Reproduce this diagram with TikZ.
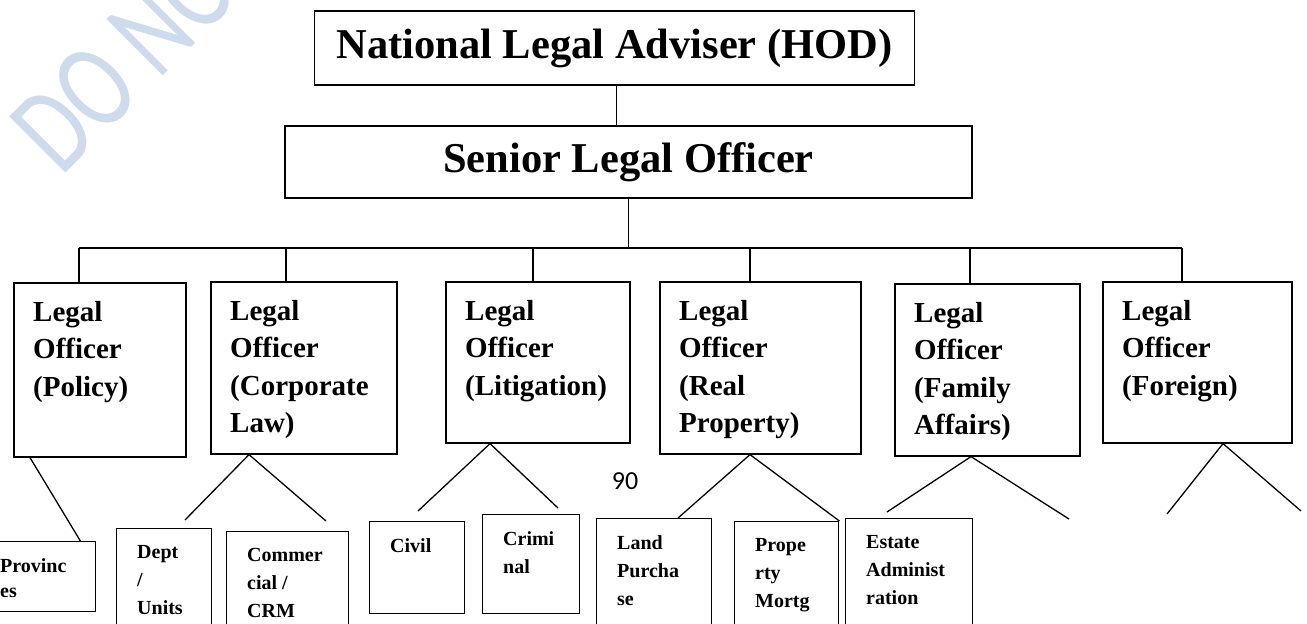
\documentclass[tikz,border=0pt]{standalone}
\usepackage{fontspec}
\setmainfont{Liberation Serif}
\newfontfamily\pagefont{Carlito}
\usetikzlibrary{positioning,calc}

\definecolor{wmblue}{RGB}{205,219,236}

\tikzset{
    headbox/.style={draw, line width=1.6pt, inner sep=0pt, font=\fontsize{42.5}{50}\selectfont\bfseries},
    officerbox/.style={draw, line width=1.6pt, anchor=north west, inner sep=0pt},
    unitbox/.style={draw, line width=1.4pt, anchor=north west, inner sep=0pt},
    officertext/.style={anchor=north west, inner sep=0pt, align=left, font=\fontsize{29}{37.5}\selectfont\bfseries},
    unittext/.style={anchor=north west, inner sep=0pt, align=left, font=\fontsize{20}{28}\selectfont\bfseries},
    link/.style={line width=1.3pt},
    wmark/.style={text=wmblue, inner sep=0pt, font=\pagefont\fontsize{124}{124}\selectfont}
}

\begin{document}
\begin{tikzpicture}[x=1pt, y=-1pt]
            \useasboundingbox (0,0) rectangle (1307,624);

            % Watermark
            \node[wmark, rotate=45, xscale=0.74, anchor=base west] (wm) at (61,178) {DO NOT COPY};

            % Head of department and senior officer
            \node[headbox, minimum width=600, minimum height=74] (hod) at (614.5,48) {National Legal Adviser (HOD)};
            \node[headbox, minimum width=687, minimum height=72] (sen) at (628.5,162) {Senior Legal Officer};
            \draw[link] ([xshift=2]hod.south) -- ([xshift=2]hod.south |- sen.north);

            % Legal officers
            \node[officerbox, minimum width=172, minimum height=174] (pol) at (13,282) {};
            \node[officerbox, minimum width=186, minimum height=172] (cor) at (210,281) {};
            \node[officerbox, minimum width=184, minimum height=161] (lit) at (445,281) {};
            \node[officerbox, minimum width=201, minimum height=172] (rea) at (659,281) {};
            \node[officerbox, minimum width=185, minimum height=172] (fam) at (894,283) {};
            \node[officerbox, minimum width=189, minimum height=161] (frn) at (1102,281) {};

            \node[officertext] (polt) at ([shift={(20,19)}]pol.north west) {Legal\\Officer\\(Policy)};
            \node[officertext] (cort) at ([shift={(20,19)}]cor.north west) {Legal\\Officer\\(Corporate\\Law)};
            \node[officertext] (litt) at ([shift={(20,19)}]lit.north west) {Legal\\Officer\\(Litigation)};
            \node[officertext] (reat) at ([shift={(20,19)}]rea.north west) {Legal\\Officer\\(Real\\Property)};
            \node[officertext] (famt) at ([shift={(20,19)}]fam.north west) {Legal\\Officer\\(Family\\Affairs)};
            \node[officertext] (frnt) at ([shift={(20,19)}]frn.north west) {Legal\\Officer\\(Foreign)};

            % Bus from the senior officer
            \coordinate (s1) at (79,248);
            \coordinate (s2) at (286,248);
            \coordinate (s3) at (533,248);
            \coordinate (s4) at (750,248);
            \coordinate (s5) at (970,248);
            \coordinate (s6) at (1182,248);
            \draw[link] (sen.south) -- (sen.south |- s1);
            \draw[link] (s1) -- (s6);
            \foreach \s/\b in {s1/pol, s2/cor, s3/lit, s4/rea, s5/fam, s6/frn}
                \draw[link] (\s) -- (\s |- \b.north);

            % Units
            \node[unitbox, minimum width=115, minimum height=70] (prv) at (-20,541) {};
            \node[unitbox, minimum width=95, minimum height=120] (dep) at (116,528) {};
            \node[unitbox, minimum width=122, minimum height=120] (com) at (226,531) {};
            \node[unitbox, minimum width=95, minimum height=92] (civ) at (369,521) {};
            \node[unitbox, minimum width=97, minimum height=99] (cri) at (482,514) {};
            \node[unitbox, minimum width=115, minimum height=120] (lan) at (596,518) {};
            \node[unitbox, minimum width=104, minimum height=120] (pro) at (734,521) {};
            \node[unitbox, minimum width=127, minimum height=120] (est) at (845,518) {};

            \node[unittext, font=\fontsize{20}{25}\selectfont\bfseries] (prvt) at ([shift={(20,17)}]prv.north west) {Provinc\\es};
            \node[unittext] (dept) at ([shift={(21,17)}]dep.north west) {Dept\\/\\Units};
            \node[unittext] (comt) at ([shift={(21,17)}]com.north west) {Commer\\cial /\\CRM};
            \node[unittext] (civt) at ([shift={(21,17)}]civ.north west) {Civil};
            \node[unittext] (crit) at ([shift={(21,17)}]cri.north west) {Crimi\\nal};
            \node[unittext] (lant) at ([shift={(21,17)}]lan.north west) {Land\\Purcha\\se};
            \node[unittext] (prot) at ([shift={(21,17)}]pro.north west) {Prope\\rty\\Mortg};
            \node[unittext] (estt) at ([shift={(21,17)}]est.north west) {Estate\\Administ\\ration};

            % Branches down to the units
            \coordinate (cl) at (185,520);
            \coordinate (cr) at (326,521);
            \coordinate (ll) at (418,511);
            \coordinate (lr) at (558,508);
            \coordinate (fl) at (887,512);
            \coordinate (fr) at (1069,519);
            \coordinate (gl) at (1167,514);
            \coordinate (gr) at (1301,511);

            \draw[link] ([xshift=17]pol.south west) -- ([xshift=-16]prv.north east);
            \draw[link] (cl) -- ([xshift=39]cor.south west) -- (cr);
            \draw[link] (ll) -- ([xshift=45]lit.south west) -- (lr);
            \draw[link] ([xshift=82]lan.north west) -- ([xshift=91]rea.south west) -- (pro.north east);
            \draw[link] (fl) -- ([xshift=77]fam.south west) -- (fr);
            \draw[link] (gl) -- ([xshift=121]frn.south west) -- (gr);

            % Page number
            \node[font=\pagefont\fontsize{26}{30}\selectfont, inner sep=0pt] (pg) at (625,481) {90};
          \end{tikzpicture}
\end{document}
